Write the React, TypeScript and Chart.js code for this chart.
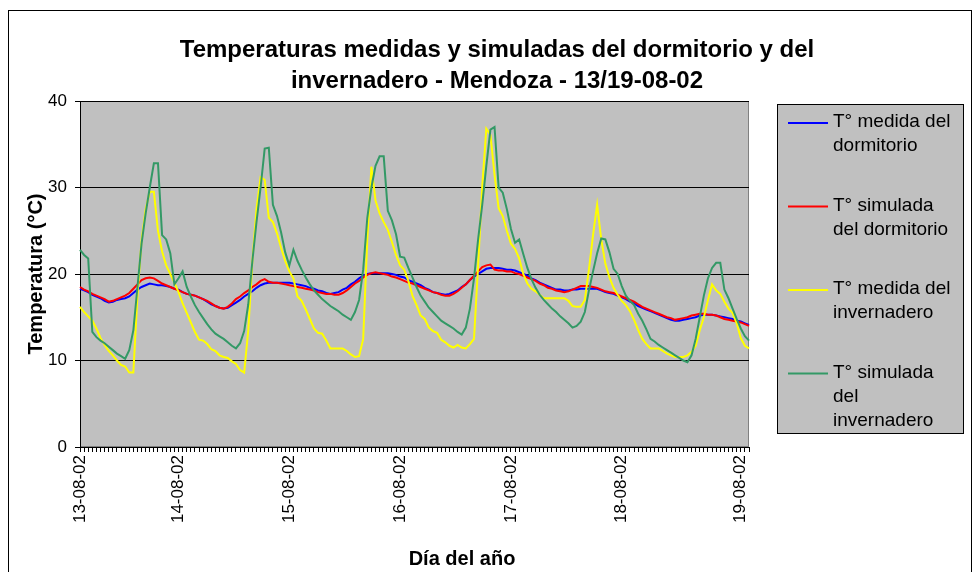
import React, { useEffect, useRef } from 'react';
import { Chart, registerables } from 'chart.js';

Chart.register(...registerables);

const FONT = "'Liberation Sans', Arial, sans-serif";
const W = 975;
const H = 572;
const PLOT = { left: 80, top: 101, right: 749, bottom: 447 };

const titleLines = [
  'Temperaturas medidas y simuladas del dormitorio y del',
  'invernadero - Mendoza - 13/19-08-02',
];
const yAxisTitle = 'Temperatura (°C)';
const xAxisTitle = 'Día del año';

const dayLabels = ['13-08-02', '14-08-02', '15-08-02', '16-08-02', '17-08-02', '18-08-02', '19-08-02'];
const dayIndices = [0, 24, 51, 78, 105, 132, 161];
const pointCount = 164;

const yTicks = [0, 10, 20, 30, 40];

const seriesNames = [
  'T° medida del dormitorio',
  'T° simulada del dormitorio',
  'T° medida del invernadero',
  'T° simulada del invernadero',
];
const legendLines = [
  ['T° medida del', 'dormitorio'],
  ['T° simulada', 'del dormitorio'],
  ['T° medida del', 'invernadero'],
  ['T° simulada', 'del', 'invernadero'],
];
const seriesColors = ['#0000FF', '#FF0000', '#FFFF00', '#339966'];

const medidaDormitorio = [
  18.3, 18.1, 17.9, 17.6, 17.4, 17.2, 16.9, 16.7, 16.8, 17.0,
  17.1, 17.2, 17.4, 17.8, 18.2, 18.5, 18.7, 18.9, 18.8, 18.7,
  18.7, 18.6, 18.5, 18.3, 18.2, 17.9, 17.7, 17.6, 17.5, 17.3,
  17.1, 16.8, 16.5, 16.3, 16.1, 16.0, 16.1, 16.4, 16.7, 17.0,
  17.4, 17.7, 18.0, 18.4, 18.7, 18.9, 19.0, 19.0, 19.0, 19.0,
  19.0, 19.0, 18.9, 18.8, 18.7, 18.6, 18.4, 18.3, 18.1, 18.0,
  17.8, 17.7, 17.8, 17.9, 18.2, 18.4, 18.8, 19.1, 19.5, 19.8,
  20.0, 20.1, 20.1, 20.1, 20.1, 20.1, 20.0, 19.9, 19.7, 19.6,
  19.3, 19.1, 18.9, 18.7, 18.4, 18.2, 17.9, 17.8, 17.7, 17.6,
  17.7, 17.9, 18.1, 18.5, 18.8, 19.3, 19.7, 20.0, 20.3, 20.6,
  20.7, 20.7, 20.7, 20.6, 20.5, 20.5, 20.4, 20.2, 20.0, 19.8,
  19.5, 19.3, 19.0, 18.8, 18.6, 18.4, 18.2, 18.2, 18.1, 18.1,
  18.2, 18.2, 18.3, 18.3, 18.3, 18.3, 18.3, 18.1, 17.9, 17.8,
  17.7, 17.5, 17.3, 17.1, 16.8, 16.6, 16.3, 16.1, 15.9, 15.7,
  15.5, 15.3, 15.1, 14.9, 14.7, 14.6, 14.6, 14.7, 14.8, 14.9,
  15.0, 15.2, 15.3, 15.3, 15.3, 15.2, 15.1, 15.0, 14.9, 14.8,
  14.6, 14.5, 14.3, 14.1,
];

const simuladaDormitorio = [
  18.5, 18.2, 18.0, 17.7, 17.5, 17.3, 17.1, 16.8, 16.9, 17.1,
  17.3, 17.5, 17.8, 18.3, 18.8, 19.3, 19.5, 19.6, 19.5, 19.2,
  18.9, 18.7, 18.5, 18.3, 18.1, 17.9, 17.7, 17.6, 17.5, 17.3,
  17.1, 16.9, 16.6, 16.3, 16.1, 16.0, 16.2, 16.6, 17.1, 17.4,
  17.8, 18.1, 18.5, 18.8, 19.2, 19.4, 19.1, 19.0, 19.0, 18.9,
  18.8, 18.7, 18.6, 18.5, 18.4, 18.3, 18.2, 18.1, 17.9, 17.8,
  17.7, 17.7, 17.6, 17.6, 17.8, 18.1, 18.5, 18.9, 19.2, 19.6,
  19.9, 20.1, 20.2, 20.1, 20.0, 19.9, 19.7, 19.6, 19.4, 19.2,
  19.0, 18.9, 18.7, 18.5, 18.3, 18.1, 17.9, 17.8, 17.6, 17.5,
  17.5, 17.7, 18.0, 18.4, 18.8, 19.3, 19.8, 20.3, 20.8, 21.0,
  21.1, 20.5, 20.4, 20.4, 20.3, 20.3, 20.1, 20.0, 19.8, 19.6,
  19.4, 19.2, 18.9, 18.7, 18.4, 18.3, 18.1, 18.0, 17.9, 18.0,
  18.2, 18.4, 18.6, 18.6, 18.6, 18.5, 18.4, 18.2, 18.0, 17.9,
  17.8, 17.6, 17.4, 17.2, 17.0, 16.8, 16.5, 16.2, 16.0, 15.8,
  15.6, 15.4, 15.2, 15.0, 14.9, 14.7, 14.8, 14.9, 15.0, 15.2,
  15.3, 15.4, 15.4, 15.3, 15.3, 15.2, 15.0, 14.8, 14.7, 14.6,
  14.5, 14.4, 14.2, 14.0,
];

const medidaInvernadero = [
  16.2, 15.6, 15.1, 14.6, 13.7, 12.6, 11.8, 11.1, 10.6, 10.0,
  9.5, 9.3, 8.6, 8.6, 17.5, 23.9, 27.5, 29.5, 29.5, 25.0,
  22.6, 21.0, 20.0, 19.0, 17.9, 16.6, 15.5, 14.4, 13.3, 12.4,
  12.3, 11.9, 11.3, 11.1, 10.6, 10.4, 10.3, 9.9, 9.6, 8.9,
  8.6, 13.5, 21.5, 27.5, 31.2, 30.9, 26.5, 26.0, 24.7, 23.0,
  21.5, 20.3, 19.5, 17.4, 16.9, 15.9, 14.8, 13.7, 13.2, 13.1,
  12.3, 11.4, 11.4, 11.4, 11.4, 11.1, 10.7, 10.4, 10.5, 12.5,
  24.0, 32.4, 28.5, 27.0, 26.0, 25.1, 23.7, 22.2, 21.0, 20.5,
  19.2, 17.5, 16.4, 15.2, 14.8, 13.8, 13.4, 13.2, 12.4, 12.1,
  11.7, 11.5, 11.8, 11.5, 11.4, 11.9, 12.5, 21.0, 30.1, 36.8,
  36.1, 31.5, 27.6, 26.7, 25.0, 23.5, 22.9, 21.8, 20.0, 18.9,
  18.3, 18.0, 17.6, 17.2, 17.2, 17.2, 17.2, 17.2, 17.2, 16.9,
  16.3, 16.2, 16.2, 17.0, 20.5, 24.5, 28.0, 24.0, 21.2, 19.6,
  18.4, 17.6, 16.9, 16.4, 15.7, 14.7, 13.5, 12.5, 11.9, 11.4,
  11.4, 11.4, 11.1, 10.8, 10.6, 10.4, 10.4, 10.4, 10.6, 11.0,
  11.7, 13.5, 15.0, 17.0, 18.8, 18.1, 17.7, 16.8, 16.0, 15.5,
  14.3, 12.6, 11.7, 11.4,
];

const simuladaInvernadero = [
  22.8, 22.2, 21.8, 13.3, 12.7, 12.3, 12.0, 11.6, 11.2, 10.8,
  10.5, 10.2, 11.2, 13.5, 18.5, 23.5, 27.0, 30.0, 32.8, 32.8,
  24.5, 24.0, 22.4, 18.8, 19.5, 20.3, 18.5, 17.4, 16.4, 15.6,
  14.9, 14.2, 13.6, 13.1, 12.8, 12.5, 12.1, 11.7, 11.4, 12.0,
  13.4, 16.5, 21.5, 26.0, 30.0, 34.5, 34.6, 28.0, 26.7, 24.8,
  22.5, 21.0, 22.8, 21.5, 20.5, 19.6, 18.8, 18.1, 17.6, 17.1,
  16.7, 16.3, 16.0, 15.7, 15.3, 15.0, 14.7, 15.6, 17.0, 20.5,
  26.5, 30.0, 32.5, 33.6, 33.6, 27.3, 26.2, 24.6, 22.0, 21.9,
  20.7, 19.6, 18.5, 17.5, 16.8, 16.1, 15.6, 15.1, 14.6, 14.3,
  14.0, 13.7, 13.3, 13.0, 13.8, 16.0, 19.5, 24.0, 28.0, 32.5,
  36.7, 37.0, 30.0, 29.4, 27.5, 25.2, 23.6, 24.0, 22.3, 20.7,
  19.4, 18.4, 17.6, 17.0, 16.5, 16.0, 15.6, 15.1, 14.7, 14.3,
  13.8, 14.0, 14.5, 15.6, 18.1, 20.3, 22.4, 24.1, 24.0, 22.5,
  20.6, 20.0, 18.6, 17.5, 16.9, 16.4, 15.4, 14.6, 13.6, 12.5,
  12.2, 11.8, 11.5, 11.2, 10.9, 10.6, 10.3, 10.0, 9.8, 10.6,
  12.5, 15.0, 17.5, 19.5, 20.7, 21.3, 21.3, 18.2, 17.2, 16.0,
  14.8, 13.7, 12.8, 12.3,
];

const seriesValues = [medidaDormitorio, simuladaDormitorio, medidaInvernadero, simuladaInvernadero];

const categories = Array.from({ length: pointCount }, (_, i) => {
  const k = dayIndices.indexOf(i);
  return k >= 0 ? dayLabels[k] : '';
});

const decorPlugin = {
  id: 'decor',
  beforeDraw(chart: any) {
    const { ctx, chartArea: a } = chart;
    ctx.save();
    ctx.fillStyle = '#FFFFFF';
    ctx.fillRect(0, 0, W, H);
    ctx.fillStyle = '#C0C0C0';
    ctx.fillRect(a.left, a.top, a.right - a.left, a.bottom - a.top);
    ctx.strokeStyle = '#808080';
    ctx.lineWidth = 1;
    ctx.strokeRect(a.left + 0.5, a.top + 0.5, a.right - a.left - 1, a.bottom - a.top - 1);
    ctx.restore();
  },
  afterDraw(chart: any) {
    const { ctx, chartArea: a } = chart;
    ctx.save();
    // outer frame
    ctx.strokeStyle = '#000000';
    ctx.lineWidth = 1;
    ctx.strokeRect(8.5, 10.5, 963, 600);

    ctx.fillStyle = '#000000';
    // title
    ctx.font = `bold 24px ${FONT}`;
    ctx.textAlign = 'center';
    ctx.textBaseline = 'alphabetic';
    ctx.fillText(titleLines[0], 497, 57);
    ctx.fillText(titleLines[1], 497, 88);

    // x axis title
    ctx.font = `bold 20px ${FONT}`;
    ctx.fillText(xAxisTitle, 462, 565);

    // y axis title
    ctx.save();
    ctx.translate(42, (a.top + a.bottom) / 2);
    ctx.rotate(-Math.PI / 2);
    ctx.fillText(yAxisTitle, 0, 0);
    ctx.restore();

    // legend box
    ctx.fillStyle = '#C0C0C0';
    ctx.fillRect(777.5, 104.5, 186, 329);
    ctx.strokeStyle = '#000000';
    ctx.strokeRect(777.5, 104.5, 186, 329);
    const itemTops = [122, 205.5, 289, 372.5];
    ctx.font = `19px ${FONT}`;
    ctx.textAlign = 'left';
    ctx.textBaseline = 'middle';
    chart.data.datasets.forEach((ds: any, i: number) => {
      const y0 = itemTops[i];
      ctx.strokeStyle = ds.borderColor;
      ctx.lineWidth = 2;
      ctx.beginPath();
      ctx.moveTo(788, y0 + 1);
      ctx.lineTo(828, y0 + 1);
      ctx.stroke();
      ctx.fillStyle = '#000000';
      legendLines[i].forEach((t, j) => {
        ctx.fillText(t, 833, y0 + j * 24);
      });
    });
    ctx.restore();
  },
};

export default function App() {
  const canvasRef = useRef<HTMLCanvasElement | null>(null);

  useEffect(() => {
    document.body.style.margin = '0';
    const canvas = canvasRef.current;
    if (!canvas) return;
    const chart = new Chart(canvas, {
      type: 'line',
      data: {
        labels: categories,
        datasets: seriesValues.map((vals, i) => ({
          label: seriesNames[i],
          data: vals,
          borderColor: seriesColors[i],
          backgroundColor: seriesColors[i],
          borderWidth: 2,
          pointRadius: 0,
          pointHoverRadius: 0,
          tension: 0,
          fill: false,
          order: 4 - i,
        })),
      },
      options: {
        responsive: false,
        animation: false,
        devicePixelRatio: 1,
        layout: { padding: { top: PLOT.top, right: W - PLOT.right, bottom: 0, left: 0 } },
        plugins: {
          legend: { display: false },
          title: { display: false },
          tooltip: { enabled: false },
        },
        scales: {
          x: {
            type: 'category',
            offset: false,
            afterFit: (s: any) => {
              s.height = H - PLOT.bottom;
            },
            grid: {
              display: true,
              drawOnChartArea: false,
              drawTicks: true,
              tickLength: 5,
              color: '#000000',
              offset: false,
            },
            border: { display: true, color: '#000000', width: 1 },
            ticks: {
              autoSkip: false,
              maxRotation: 90,
              minRotation: 90,
              padding: 3,
              color: '#000000',
              font: { family: FONT, size: 17 },
            },
          },
          y: {
            min: 0,
            max: 40,
            afterFit: (s: any) => {
              s.width = PLOT.left;
            },
            afterBuildTicks: (s: any) => {
              s.ticks = yTicks.map((v) => ({ value: v }));
            },
            grid: { color: '#000000', lineWidth: 1, tickLength: 5, drawTicks: true },
            border: { display: true, color: '#000000', width: 1 },
            ticks: {
              padding: 8,
              color: '#000000',
              font: { family: FONT, size: 17 },
            },
          },
        },
      },
      plugins: [decorPlugin],
    } as any);
    return () => chart.destroy();
  }, []);

  return <canvas ref={canvasRef} width={W} height={H} style={{ display: 'block' }} />;
}
